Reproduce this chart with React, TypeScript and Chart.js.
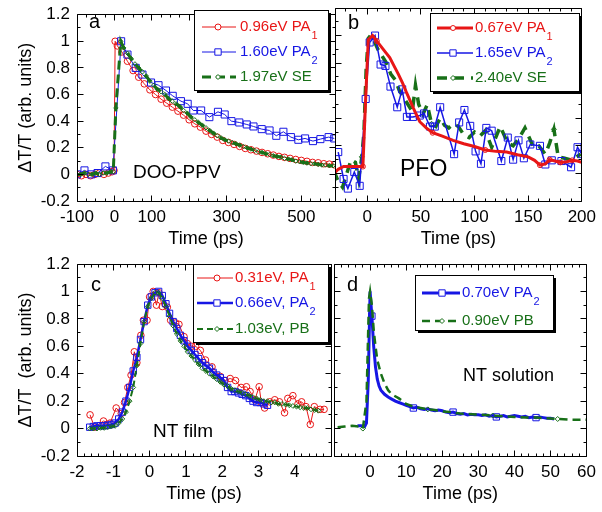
import React, { useEffect, useRef } from 'react';
import { Chart, registerables } from 'chart.js';

Chart.register(...registerables);

const FONT = "'Liberation Sans', Arial, Helvetica, sans-serif";
const RED = 'rgb(232,22,22)';
const BLUE = 'rgb(22,22,228)';
const GREEN = 'rgb(24,112,24)';

// ---------- axis ticks ----------
const yTicks = [-0.2, 0, 0.2, 0.4, 0.6, 0.8, 1, 1.2];
const aXTicks = [-100, 0, 100, 300, 500];
const bXTicks = [0, 50, 100, 150, 200];
const cXTicks = [-2, -1, 0, 1, 2, 3, 4];
const dXTicks = [0, 10, 20, 30, 40, 50, 60];

// ---------- legend labels ----------
const aLabels = ['0.96eV PA', '1.60eV PA', '1.97eV SE'];
const aSubs = ['1', '2', ''];
const bLabels = ['0.67eV PA', '1.65eV PA', '2.40eV SE'];
const bSubs = ['1', '2', ''];
const cLabels = ['0.31eV, PA', '0.66eV, PA', '1.03eV, PB'];
const cSubs = ['1', '2', ''];
const dLabels = ['0.70eV PA', '0.90eV PB'];
const dSubs = ['2', ''];

// ---------- panel a: DOO-PPV ----------
const aRedX = [-100, -88, -76, -64, -52, -40, -28, -16, -6, -1, 2, 8, 20, 35, 50, 65, 80, 95, 110, 125, 140, 155, 170, 185, 200, 215, 230, 245, 260, 275, 290, 305, 320, 335, 350, 365, 380, 395, 410, 425, 440, 455, 470, 485, 500, 515, 530, 545, 560, 575, 588];
const aRedY = [0.0, -0.01, 0.0, -0.01, 0.0, 0.01, 0.0, 0.01, 0.02, 0.03, 1.0, 0.965, 0.92, 0.85, 0.78, 0.73, 0.68, 0.635, 0.6, 0.565, 0.535, 0.505, 0.475, 0.445, 0.41, 0.38, 0.355, 0.325, 0.3, 0.28, 0.255, 0.24, 0.225, 0.21, 0.195, 0.185, 0.175, 0.165, 0.155, 0.145, 0.135, 0.128, 0.12, 0.112, 0.105, 0.098, 0.09, 0.087, 0.08, 0.077, 0.072];
const aBlueX = [-100, -80, -62, -45, -24, -4, 18, 35, 57, 75, 98, 118, 138, 156, 178, 196, 211, 232, 254, 277, 295, 313, 334, 354, 372, 394, 415, 433, 452, 472, 492, 510, 531, 551, 573, 588];
const aBlueY = [0.0, 0.03, 0.0, 0.01, 0.06, 0.03, 1.0, 0.9, 0.8, 0.75, 0.69, 0.67, 0.63, 0.59, 0.55, 0.53, 0.48, 0.48, 0.43, 0.47, 0.45, 0.4, 0.39, 0.375, 0.36, 0.34, 0.33, 0.29, 0.32, 0.28, 0.26, 0.27, 0.25, 0.265, 0.28, 0.27];
const aGreenX = [-100, -90, -80, -70, -60, -50, -40, -30, -20, -10, -3, 4, 17, 25, 35, 45, 55, 65, 75, 85, 95, 105, 115, 125, 135, 145, 155, 165, 175, 185, 195, 205, 215, 225, 235, 245, 255, 265, 275, 285, 295, 305, 315, 325, 335, 345, 355, 365, 375, 385, 395, 405, 415, 425, 435, 445, 455, 465, 475, 485, 495, 505, 515, 525, 535, 545, 555, 565, 575, 585];
const aGreenY = [0.0, 0.0, 0.01, 0.0, 0.0, 0.01, 0.0, 0.01, 0.01, 0.02, 0.02, 0.5, 1.0, 0.95, 0.91, 0.87, 0.83, 0.8, 0.77, 0.74, 0.7, 0.67, 0.64, 0.62, 0.6, 0.57, 0.55, 0.53, 0.51, 0.48, 0.46, 0.43, 0.41, 0.39, 0.37, 0.35, 0.33, 0.31, 0.29, 0.275, 0.26, 0.25, 0.24, 0.23, 0.22, 0.21, 0.2, 0.19, 0.18, 0.17, 0.165, 0.155, 0.15, 0.14, 0.135, 0.13, 0.12, 0.115, 0.11, 0.1, 0.095, 0.09, 0.085, 0.08, 0.08, 0.075, 0.07, 0.07, 0.065, 0.065];

// ---------- panel b: PFO ----------
const bRedX = [-31, -27, -22, -15, -8, -4, -1.5, 1, 5, 9, 13, 17, 21, 25, 29, 33, 37, 41, 45, 49, 55, 61, 70, 80, 90, 100, 110, 120, 130, 140, 150, 156, 161, 166, 170, 175, 180, 186, 191, 196, 200];
const bRedY = [0.0, 0.03, 0.05, 0.05, 0.05, 0.05, 0.53, 0.97, 1.0, 0.96, 0.92, 0.88, 0.84, 0.78, 0.72, 0.655, 0.58, 0.51, 0.44, 0.375, 0.33, 0.295, 0.27, 0.24, 0.215, 0.195, 0.17, 0.16, 0.155, 0.135, 0.12, 0.095, 0.06, 0.07, 0.1, 0.09, 0.08, 0.085, 0.095, 0.09, 0.08];
const bRedMarks = [5, 9, 21, 26, 32, 34, 36, 38];
const bBlueX = [-27, -22, -18, -12, -7, -1.4, 2.3, 7.3, 12.5, 17, 21.7, 28, 32.6, 37, 42.6, 49, 53, 58.5, 63, 68, 81, 85.7, 90.6, 96, 101, 106, 111, 116, 125, 131, 136, 141, 146, 152, 161, 166, 172, 181, 190, 196, 200];
const bBlueY = [0.155, -0.04, -0.11, 0.01, -0.09, 0.54, 0.95, 1.0, 0.79, 0.78, 0.63, 0.48, 0.61, 0.41, 0.41, 0.42, 0.435, 0.34, 0.34, 0.48, 0.14, 0.37, 0.46, 0.345, 0.16, 0.07, 0.33, 0.31, 0.09, 0.26, 0.1, 0.24, 0.11, 0.21, 0.2, 0.065, 0.095, 0.09, 0.045, 0.19, 0.14];
const bGreenX = [-31, -27, -23, -19, -15, -11, -8, -5, -3, -1, 1, 3, 6, 10, 14, 18, 22, 26, 30, 34, 38, 42, 45, 48, 52, 56, 60, 64, 68, 72, 76, 80, 85, 90, 95, 100, 105, 110, 116, 124, 131, 136, 141, 147, 155, 160, 166, 170, 174, 178, 184, 191, 195, 199];
const bGreenY = [0.02, -0.06, -0.1, 0.0, 0.1, 0.08, -0.04, 0.12, 0.3, 0.75, 0.98, 1.0, 0.97, 0.9, 0.85, 0.8, 0.72, 0.68, 0.6, 0.55, 0.5, 0.45, 0.64, 0.5, 0.43, 0.5, 0.36, 0.34, 0.4, 0.35, 0.33, 0.36, 0.34, 0.28, 0.26, 0.3, 0.27, 0.31, 0.19, 0.34, 0.22, 0.2, 0.25, 0.33, 0.19, 0.2, 0.14, 0.22, 0.32, 0.12, 0.11, 0.095, 0.12, 0.14];
const bGreenMarks = [7, 26, 48];

// ---------- panel c: NT film ----------
const cRedX = [-1.64, -1.52, -1.27, -1.09, -0.92, -0.78, -0.69, -0.6, -0.51, -0.42, -0.35, -0.24, -0.17, -0.07, 0.0, 0.1, 0.19, 0.26, 0.35, 0.49, 0.58, 0.72, 0.81, 0.95, 1.04, 1.16, 1.27, 1.4, 1.54, 1.72, 1.95, 2.08, 2.22, 2.37, 2.52, 2.67, 2.77, 2.9, 3.02, 3.08, 3.17, 3.31, 3.45, 3.58, 3.72, 3.81, 3.95, 4.09, 4.19, 4.31, 4.43, 4.54, 4.7, 4.81];
const cRedY = [0.1, 0.01, 0.055, 0.04, 0.15, 0.11, 0.19, 0.3, 0.39, 0.56, 0.48, 0.68, 0.79, 0.79, 0.96, 1.0, 0.9, 0.99, 0.89, 0.885, 0.79, 0.77, 0.76, 0.67, 0.62, 0.6, 0.6, 0.57, 0.5, 0.45, 0.38, 0.35, 0.365, 0.35, 0.3, 0.305, 0.27, 0.21, 0.305, 0.19, 0.15, 0.195, 0.21, 0.195, 0.115, 0.22, 0.24, 0.18, 0.195, 0.16, 0.03, 0.16, 0.14, 0.14];
const cBlueX = [-1.65, -1.55, -1.45, -1.35, -1.25, -1.15, -1.05, -0.95, -0.85, -0.75, -0.65, -0.55, -0.45, -0.35, -0.25, -0.15, -0.05, 0.05, 0.15, 0.25, 0.35, 0.45, 0.55, 0.65, 0.75, 0.85, 0.95, 1.05, 1.15, 1.25, 1.35, 1.45, 1.55, 1.65, 1.75, 1.85, 1.95, 2.05, 2.15, 2.25, 2.35, 2.45, 2.55, 2.65, 2.75, 2.85, 2.95, 3.05, 3.15, 3.25];
const cBlueY = [0.01, 0.015, 0.02, 0.02, 0.02, 0.025, 0.03, 0.04, 0.07, 0.12, 0.2, 0.3, 0.42, 0.52, 0.65, 0.78, 0.9, 0.96, 0.99, 1.0, 0.97, 0.91, 0.84, 0.78, 0.73, 0.68, 0.64, 0.6, 0.57, 0.54, 0.51, 0.48, 0.46, 0.44, 0.41, 0.39, 0.37, 0.35, 0.3, 0.27, 0.27, 0.26, 0.25, 0.24, 0.22, 0.2, 0.19, 0.19, 0.18, 0.17];
const cGreenX = [-1.65, -1.55, -1.45, -1.35, -1.25, -1.15, -1.05, -0.95, -0.85, -0.75, -0.65, -0.55, -0.45, -0.35, -0.25, -0.15, -0.05, 0.05, 0.15, 0.25, 0.35, 0.45, 0.55, 0.65, 0.75, 0.85, 0.95, 1.05, 1.15, 1.25, 1.35, 1.45, 1.55, 1.65, 1.75, 1.85, 1.95, 2.05, 2.15, 2.25, 2.35, 2.45, 2.55, 2.65, 2.75, 2.85, 2.95, 3.05, 3.15, 3.25, 3.35, 3.45, 3.55, 3.65, 3.75, 3.85, 3.95, 4.05, 4.15, 4.25, 4.35, 4.45, 4.55, 4.65];
const cGreenY = [0.0, 0.0, 0.0, 0.005, 0.005, 0.01, 0.015, 0.02, 0.04, 0.07, 0.12, 0.2, 0.3, 0.46, 0.62, 0.78, 0.89, 0.95, 0.99, 0.99, 0.95, 0.89, 0.82, 0.75, 0.69, 0.64, 0.6, 0.56, 0.53, 0.5, 0.47, 0.44, 0.42, 0.4, 0.38, 0.36, 0.34, 0.32, 0.31, 0.29, 0.28, 0.27, 0.26, 0.25, 0.24, 0.23, 0.22, 0.21, 0.2, 0.2, 0.19, 0.19, 0.18, 0.18, 0.175, 0.17, 0.165, 0.16, 0.155, 0.15, 0.15, 0.14, 0.135, 0.13];

// ---------- panel d: NT solution ----------
const dBlueX = [-3.5, -2.5, -1.5, -1, -0.5, 0, 0.5, 1, 1.5, 2, 2.5, 3, 4, 5, 6, 7, 8, 9, 10, 11, 12, 13, 14, 15, 16, 17, 18, 19, 20, 21, 22, 23, 24, 25, 26, 27, 28, 29, 30, 31, 32, 33, 34, 35, 36, 37, 38, 39, 40, 41, 42, 43, 44, 45, 46, 47, 48, 49, 50, 51];
const dBlueY = [0.02, 0.02, 0.015, 0.04, 0.35, 1.0, 0.82, 0.6, 0.45, 0.36, 0.31, 0.28, 0.25, 0.23, 0.215, 0.2, 0.19, 0.18, 0.17, 0.16, 0.15, 0.155, 0.145, 0.14, 0.145, 0.135, 0.13, 0.135, 0.13, 0.12, 0.115, 0.12, 0.11, 0.105, 0.11, 0.1, 0.105, 0.1, 0.1, 0.095, 0.1, 0.09, 0.095, 0.085, 0.09, 0.095, 0.085, 0.09, 0.095, 0.09, 0.085, 0.09, 0.08, 0.085, 0.08, 0.085, 0.08, 0.075, 0.075, 0.07];
const dBlueMarks = [6, 20, 31, 43, 54];
const dGreenX = [-9, -7, -5, -3, -2, -1, -0.3, 0, 0.5, 1, 1.5, 2, 3, 4, 5, 6, 8, 10, 12, 14, 16, 18, 20, 22, 25, 28, 31, 34, 37, 40, 43, 46, 49, 52, 55, 58, 60];
const dGreenY = [0.01, 0.015, 0.02, 0.015, 0.0, 0.2, 0.95, 1.0, 0.9, 0.72, 0.6, 0.5, 0.4, 0.33, 0.28, 0.25, 0.22, 0.18, 0.16, 0.15, 0.14, 0.135, 0.125, 0.12, 0.11, 0.105, 0.1, 0.095, 0.09, 0.085, 0.08, 0.08, 0.075, 0.07, 0.065, 0.065, 0.065];
const dGreenMarks = [4, 20, 27, 33];

// ---------- helpers ----------
function zip(xs: number[], ys: number[]) {
  const n = Math.min(xs.length, ys.length);
  const out: { x: number; y: number }[] = [];
  for (let i = 0; i < n; i++) out.push({ x: xs[i], y: ys[i] });
  return out;
}
function sparse(marks: number[], r: number) {
  return (c: any) => (marks.includes(c.dataIndex) ? r : 0);
}

function drawMarker(ctx: CanvasRenderingContext2D, style: string, x: number, y: number, r: number, color: string) {
  ctx.beginPath();
  if (style === 'circle') ctx.arc(x, y, r, 0, Math.PI * 2);
  else if (style === 'rect') {
    const s = r * Math.SQRT1_2;
    ctx.rect(x - s, y - s, 2 * s, 2 * s);
  } else {
    ctx.moveTo(x, y - r);
    ctx.lineTo(x + r, y);
    ctx.lineTo(x, y + r);
    ctx.lineTo(x - r, y);
    ctx.closePath();
  }
  ctx.fillStyle = '#fff';
  ctx.fill();
  ctx.setLineDash([]);
  ctx.lineWidth = 1;
  ctx.strokeStyle = color;
  ctx.stroke();
}

const framePlugin = {
  id: 'frame',
  afterDatasetsDraw(chart: any, _args: any, opts: any) {
    const { ctx, chartArea: a, scales } = chart;
    const xs = scales.x;
    const ys = scales.y;
    const L = Math.floor(a.left) + 0.5;
    const R = Math.floor(a.right) + 0.5;
    const T = Math.floor(a.top) + 0.5;
    const B = Math.floor(a.bottom) + 0.5;
    ctx.save();
    ctx.strokeStyle = '#000';
    ctx.lineWidth = 1;
    ctx.setLineDash([]);
    ctx.beginPath();
    ctx.rect(L, T, R - L, B - T);
    const isMaj = (v: number, m: number) => Math.abs(v / m - Math.round(v / m)) < 1e-6;
    const xStep = opts.xMinor;
    for (let k = Math.ceil(xs.min / xStep - 1e-9); k <= Math.floor(xs.max / xStep + 1e-9); k++) {
      const v = k * xStep;
      const len = isMaj(v, opts.xMajor) ? 6 : 3;
      const px = Math.floor(xs.getPixelForValue(v)) + 0.5;
      ctx.moveTo(px, B);
      ctx.lineTo(px, B - len);
      ctx.moveTo(px, T);
      ctx.lineTo(px, T + len);
    }
    for (let k = -2; k <= 12; k++) {
      const v = k / 10;
      const len = k % 2 === 0 ? 6 : 3;
      const py = Math.floor(ys.getPixelForValue(v)) + 0.5;
      ctx.moveTo(L, py);
      ctx.lineTo(L + len, py);
      ctx.moveTo(R, py);
      ctx.lineTo(R - len, py);
    }
    ctx.stroke();
    ctx.restore();
  },
};

const legendPlugin = {
  id: 'boxLegend',
  afterDraw(chart: any, _args: any, o: any) {
    if (!o || !o.rows) return;
    const { ctx } = chart;
    ctx.save();
    ctx.fillStyle = '#000';
    ctx.fillRect(o.x + 3, o.y + 3, o.w, o.h);
    ctx.fillStyle = '#fff';
    ctx.fillRect(o.x, o.y, o.w, o.h);
    ctx.strokeStyle = '#000';
    ctx.lineWidth = 1;
    ctx.strokeRect(o.x + 0.5, o.y + 0.5, o.w, o.h);
    o.rows.forEach((row: any, i: number) => {
      const ds = chart.data.datasets[row.ds];
      const yy = o.rowY[i];
      ctx.strokeStyle = ds.borderColor;
      ctx.lineWidth = ds.borderWidth;
      ctx.setLineDash(ds.borderDash || []);
      ctx.beginPath();
      ctx.moveTo(o.lineX1, yy);
      ctx.lineTo(o.lineX2, yy);
      ctx.stroke();
      drawMarker(ctx, ds.pointStyle, o.markX, yy, row.r, ds.borderColor);
      ctx.fillStyle = ds.borderColor;
      ctx.textAlign = 'left';
      ctx.textBaseline = 'middle';
      ctx.font = `${o.size}px ${FONT}`;
      ctx.fillText(row.label, o.textX, yy);
      if (row.sub) {
        const w = ctx.measureText(row.label).width;
        ctx.font = `${Math.round(o.size * 0.75)}px ${FONT}`;
        ctx.fillText(row.sub, o.textX + w + 1, yy + 9);
      }
    });
    ctx.restore();
  },
};

const notesPlugin = {
  id: 'notes',
  afterDraw(chart: any, _args: any, o: any) {
    if (!o || !o.items) return;
    const { ctx } = chart;
    ctx.save();
    ctx.fillStyle = '#000';
    ctx.textAlign = 'left';
    ctx.textBaseline = 'middle';
    o.items.forEach((t: any) => {
      ctx.font = `${t.size}px ${FONT}`;
      ctx.fillText(t.text, t.x, t.y);
    });
    ctx.restore();
  },
};

function makeConfig(spec: any) {
  const yScale = spec.showY
    ? {
        type: 'linear',
        min: -0.2,
        max: 1.2,
        afterBuildTicks: (s: any) => {
          s.ticks = yTicks.map((v) => ({ value: v }));
        },
        afterFit: (s: any) => {
          s.width = 77;
        },
        ticks: {
          padding: 7,
          color: '#000',
          font: { family: FONT, size: 17, lineHeight: 0.9 },
          callback: (v: any) => String(Math.round(Number(v) * 10) / 10),
        },
        grid: { display: false, drawTicks: false },
        border: { display: false },
        title: {
          display: true,
          text: spec.yTitle,
          color: '#000',
          font: { family: FONT, size: 18 },
          padding: { top: 15, bottom: 0 },
        },
      }
    : { type: 'linear', min: -0.2, max: 1.2, display: false };
  return {
    type: 'line',
    data: { datasets: spec.datasets },
    plugins: [framePlugin, legendPlugin, notesPlugin],
    options: {
      responsive: false,
      animation: false,
      devicePixelRatio: 1,
      events: [],
      layout: { padding: spec.padding },
      elements: { line: { tension: 0 } },
      scales: {
        x: {
          type: 'linear',
          min: spec.xMin,
          max: spec.xMax,
          afterBuildTicks: (s: any) => {
            s.ticks = spec.xTicks.map((v: number) => ({ value: v }));
          },
          afterFit: (s: any) => {
            s.height = 50;
          },
          ticks: {
            autoSkip: false,
            maxRotation: 0,
            minRotation: 0,
            padding: 6,
            color: '#000',
            font: { family: FONT, size: 17 },
            callback: (v: any) => String(v),
          },
          grid: { display: false, drawTicks: false },
          border: { display: false },
          title: {
            display: true,
            text: 'Time (ps)',
            color: '#000',
            font: { family: FONT, size: 18 },
            padding: { top: 0, bottom: 1.5 },
          },
        },
        y: yScale,
      },
      plugins: {
        legend: { display: false },
        tooltip: { enabled: false },
        frame: { xMinor: spec.xMinor, xMajor: spec.xMajor },
        boxLegend: spec.legend,
        notes: { items: spec.notes },
      },
    },
  };
}

const hollow = 'rgba(0,0,0,0)';

function configA() {
  return makeConfig({
    xMin: -100, xMax: 590, xTicks: aXTicks, xMinor: 25, xMajor: 100, showY: true,
    yTitle: 'ΔT/T (arb. units)',
    padding: { left: 0, right: 267, top: 8, bottom: 261 },
    datasets: [
      { label: aLabels[0], data: zip(aRedX, aRedY), borderColor: RED, borderWidth: 1, pointStyle: 'circle', pointRadius: 3.3, pointBorderColor: RED, pointBackgroundColor: hollow, pointBorderWidth: 1, order: 2 },
      { label: aLabels[1], data: zip(aBlueX, aBlueY), borderColor: BLUE, borderWidth: 1, pointStyle: 'rect', pointRadius: 5, pointBorderColor: BLUE, pointBackgroundColor: hollow, pointBorderWidth: 1, order: 1 },
      { label: aLabels[2], data: zip(aGreenX, aGreenY), borderColor: GREEN, borderWidth: 3, borderDash: [9, 5], pointStyle: 'rectRot', pointRadius: 2.2, pointBorderColor: GREEN, pointBackgroundColor: hollow, pointBorderWidth: 1, order: 0 },
    ],
    legend: {
      x: 194, y: 10, w: 134, h: 80, rowY: [27, 52, 77], lineX1: 202, lineX2: 236, markX: 218, textX: 240, size: 15,
      rows: [
        { ds: 0, label: aLabels[0], sub: aSubs[0], r: 3 },
        { ds: 1, label: aLabels[1], sub: aSubs[1], r: 4.5 },
        { ds: 2, label: aLabels[2], sub: aSubs[2], r: 2.5 },
      ],
    },
    notes: [
      { text: 'a', x: 89, y: 22, size: 20 },
      { text: 'DOO-PPV', x: 133, y: 173, size: 19 },
    ],
  });
}

function configB() {
  return makeConfig({
    xMin: -30, xMax: 200, xTicks: bXTicks, xMinor: 10, xMajor: 50, showY: false,
    padding: { left: 335, right: 19, top: 8, bottom: 261 },
    datasets: [
      { label: bLabels[0], data: zip(bRedX, bRedY), borderColor: RED, borderWidth: 3, pointStyle: 'circle', pointRadius: sparse(bRedMarks, 2.5), pointBorderColor: RED, pointBackgroundColor: hollow, pointBorderWidth: 1 },
      { label: bLabels[1], data: zip(bBlueX, bBlueY), borderColor: BLUE, borderWidth: 1.5, pointStyle: 'rect', pointRadius: 5, pointBorderColor: BLUE, pointBackgroundColor: hollow, pointBorderWidth: 1 },
      { label: bLabels[2], data: zip(bGreenX, bGreenY), borderColor: GREEN, borderWidth: 3.5, borderDash: [10, 7], pointStyle: 'rectRot', pointRadius: sparse(bGreenMarks, 2.5), pointBorderColor: GREEN, pointBackgroundColor: hollow, pointBorderWidth: 1 },
    ],
    legend: {
      x: 430, y: 13, w: 149, h: 78, rowY: [28, 53, 78], lineX1: 437, lineX2: 473, markX: 453, textX: 475, size: 15,
      rows: [
        { ds: 0, label: bLabels[0], sub: bSubs[0], r: 2.5 },
        { ds: 1, label: bLabels[1], sub: bSubs[1], r: 4.5 },
        { ds: 2, label: bLabels[2], sub: bSubs[2], r: 2.5 },
      ],
    },
    notes: [
      { text: 'b', x: 348, y: 23, size: 20 },
      { text: 'PFO', x: 400, y: 170, size: 23 },
    ],
  });
}

function configC() {
  return makeConfig({
    xMin: -2, xMax: 5, xTicks: cXTicks, xMinor: 0.2, xMajor: 1, showY: true,
    yTitle: 'ΔT/T  (arb. units)',
    padding: { left: 0, right: 271, top: 264, bottom: 6 },
    datasets: [
      { label: cLabels[0], data: zip(cRedX, cRedY), borderColor: RED, borderWidth: 1, pointStyle: 'circle', pointRadius: 3.3, pointBorderColor: RED, pointBackgroundColor: hollow, pointBorderWidth: 1, order: 2 },
      { label: cLabels[1], data: zip(cBlueX, cBlueY), borderColor: BLUE, borderWidth: 2.5, pointStyle: 'rect', pointRadius: 4.5, pointBorderColor: BLUE, pointBackgroundColor: hollow, pointBorderWidth: 1, order: 1 },
      { label: cLabels[2], data: zip(cGreenX, cGreenY), borderColor: GREEN, borderWidth: 2, borderDash: [6, 4], pointStyle: 'rectRot', pointRadius: 2.4, pointBorderColor: GREEN, pointBackgroundColor: hollow, pointBorderWidth: 1, order: 0 },
    ],
    legend: {
      x: 193, y: 264, w: 135, h: 78, rowY: [278, 303, 329], lineX1: 197, lineX2: 233, markX: 217, textX: 235, size: 15,
      rows: [
        { ds: 0, label: cLabels[0], sub: cSubs[0], r: 3 },
        { ds: 1, label: cLabels[1], sub: cSubs[1], r: 4.5 },
        { ds: 2, label: cLabels[2], sub: cSubs[2], r: 2.5 },
      ],
    },
    notes: [
      { text: 'c', x: 91, y: 285, size: 20 },
      { text: 'NT film', x: 153, y: 432, size: 19 },
    ],
  });
}

function configD() {
  return makeConfig({
    xMin: -10, xMax: 60, xTicks: dXTicks, xMinor: 2, xMajor: 10, showY: false,
    padding: { left: 334, right: 9, top: 264, bottom: 6 },
    datasets: [
      { label: dLabels[0], data: zip(dBlueX, dBlueY), borderColor: BLUE, borderWidth: 3, pointStyle: 'rect', pointRadius: sparse(dBlueMarks, 4.5), pointBorderColor: BLUE, pointBackgroundColor: hollow, pointBorderWidth: 1, order: 1 },
      { label: dLabels[1], data: zip(dGreenX, dGreenY), borderColor: GREEN, borderWidth: 2.5, borderDash: [8, 5], pointStyle: 'rectRot', pointRadius: sparse(dGreenMarks, 2.5), pointBorderColor: GREEN, pointBackgroundColor: hollow, pointBorderWidth: 1, order: 0 },
    ],
    legend: {
      x: 415, y: 275, w: 138, h: 55, rowY: [293, 321], lineX1: 422, lineX2: 460, markX: 442, textX: 462, size: 15,
      rows: [
        { ds: 0, label: dLabels[0], sub: dSubs[0], r: 4.5 },
        { ds: 1, label: dLabels[1], sub: dSubs[1], r: 2.5 },
      ],
    },
    notes: [
      { text: 'd', x: 347, y: 285, size: 20 },
      { text: 'NT solution', x: 463, y: 376, size: 18 },
    ],
  });
}

function Panel({ make }: { make: () => any }) {
  const ref = useRef<HTMLCanvasElement>(null);
  useEffect(() => {
    if (!ref.current) return;
    const chart = new Chart(ref.current, make());
    return () => chart.destroy();
  }, [make]);
  return (
    <canvas
      ref={ref}
      width={602}
      height={512}
      style={{ position: 'absolute', left: 0, top: 0, width: 602, height: 512 }}
    />
  );
}

export default function App() {
  return (
    <div style={{ position: 'fixed', left: 0, top: 0, width: 602, height: 512, background: '#fff', overflow: 'hidden' }}>
      <Panel make={configA} />
      <Panel make={configB} />
      <Panel make={configC} />
      <Panel make={configD} />
    </div>
  );
}
